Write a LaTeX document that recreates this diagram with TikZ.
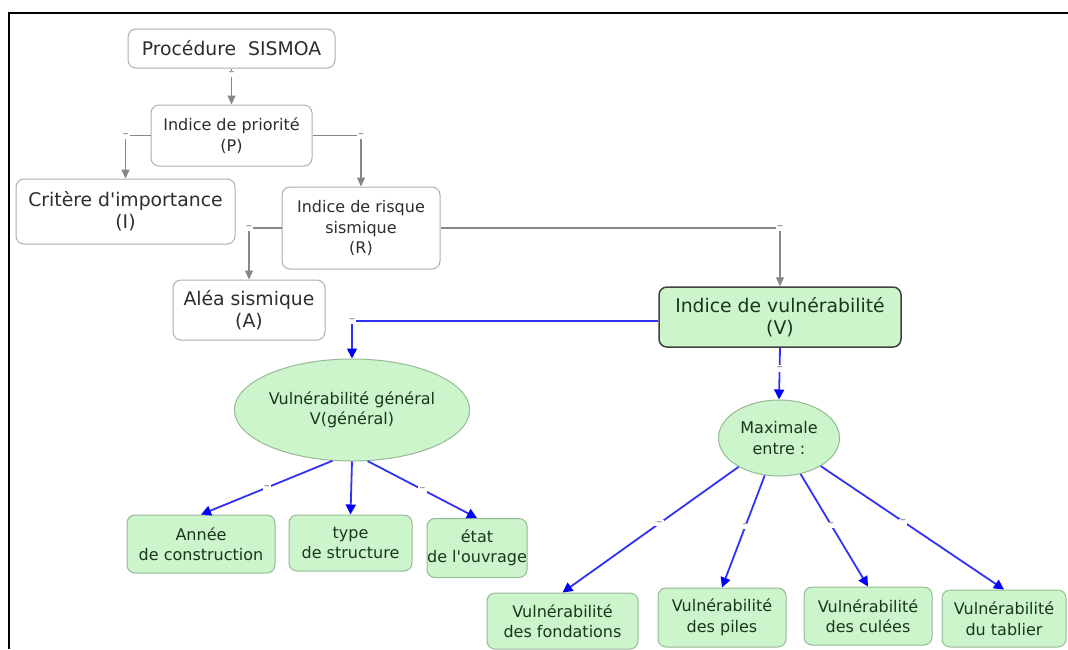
\documentclass[tikz,border=0pt]{standalone}
\usepackage{fontspec}
\setmainfont{DejaVu Sans}[Ligatures=TeXOff]
\usetikzlibrary{shapes.geometric,arrows.meta}
\definecolor{boxgreen}{RGB}{204,245,204}
\definecolor{greenedge}{RGB}{150,185,150}
\definecolor{grayedge}{RGB}{175,175,175}
\definecolor{linegray}{RGB}{135,135,135}
\definecolor{lblgray}{RGB}{120,120,120}
\definecolor{lineblue}{RGB}{50,50,245}
\definecolor{txtgray}{RGB}{45,45,45}
\definecolor{txtgreen}{RGB}{25,55,25}
\tikzset{
  bigfont/.style={font=\fontsize{18.8}{22}\selectfont},
  smallfont/.style={font=\fontsize{16}{20.5}\selectfont},
  graybox/.style={draw=grayedge, line width=1pt, fill=white, rounded corners=8pt,
    align=center, inner sep=0pt, text=txtgray},
  greenbox/.style={draw=greenedge, line width=1pt, fill=boxgreen, rounded corners=8pt,
    align=center, inner sep=0pt, text=txtgreen},
  greenell/.style={ellipse, draw=greenedge, line width=1pt, fill=boxgreen,
    align=center, inner sep=0pt, text=txtgreen},
  grayarrow/.style={draw=linegray, line width=1.2pt, -{Triangle[length=9pt,width=8pt]}},
  bluearrow/.style={draw=lineblue, line width=1.8pt, -{Triangle[length=10pt,width=10pt,fill=blue,color=blue]}},
  lbl/.style={font=\fontsize{12}{12}\selectfont, text=lblgray, fill=white, inner sep=1.2pt},
  sz/.style n args={2}{minimum width=#1pt, minimum height=#2pt}
}
\begin{document}
\begin{tikzpicture}[x=1pt,y=-1pt]
\useasboundingbox (0,0) rectangle (1068,649);
\fill[white] (0,0) rectangle (1068,649);
\clip (0,0) rectangle (1068,649);
\draw[line width=2.6pt] (9,649) -- (9,13) -- (1068,13);

% gray nodes
\node[graybox, bigfont, sz={207}{39}] (sis) at (231.5,48.5) {Procédure\ \ SISMOA};
\node[graybox, smallfont, sz={161}{61}] (P) at (231.5,135.5) {Indice de priorité\\(P)};
\node[graybox, bigfont, sz={219}{65}] (I) at (125.5,211.5) {Critère d'importance\\(I)};
\node[graybox, smallfont, sz={158}{82}] (R) at (361,228) {Indice de risque\\sismique\\(R)};
\node[graybox, bigfont, sz={152}{60}] (A) at (249,310) {Aléa sismique\\(A)};

% green nodes
\node[greenbox, bigfont, sz={242}{60}, draw=black!75, line width=1.5pt] (V) at (780,317) {Indice de vulnérabilité\\(V)};
\node[greenell, smallfont, sz={204}{102}] (vg) at (352,410) {Vulnérabilité général\\V(général)};
\node[greenell, smallfont, sz={121}{76}] (mx) at (779,438) {Maximale\\entre :};

\node[greenbox, smallfont, sz={148}{58}] (an) at (201,544) {Année\\de construction};
\node[greenbox, smallfont, sz={123}{56}] (ty) at (350.5,543) {type\\de structure};
\node[greenbox, smallfont, sz={100}{59}] (et) at (477,548) {état\\de l'ouvrage};

\node[greenbox, smallfont, sz={151}{56}] (fo) at (562.5,621) {Vulnérabilité\\des fondations};
\node[greenbox, smallfont, sz={128}{59}] (pi) at (722,617.5) {Vulnérabilité\\des piles};
\node[greenbox, smallfont, sz={128}{58}] (cu) at (868,616) {Vulnérabilité\\des culées};
\node[greenbox, smallfont, sz={124}{57}] (ta) at (1004,618.5) {Vulnérabilité\\du tablier};

% gray connectors
\draw[grayarrow] (sis) -- node[lbl, pos=0.15] {–} (P);
\draw[grayarrow] (P.west) -| node[lbl, pos=0.5] {–} (I.north);
\draw[grayarrow] (P.east) -| node[lbl, pos=0.5] {–} (R.north);
\draw[grayarrow] (R.west) -| node[lbl, pos=0.5] {–} (A.north);
\draw[grayarrow] (R.east) -| node[lbl, pos=0.5] {–} (V.north);

% blue connectors
\draw[bluearrow] ([yshift=-4pt]V.west) -| node[lbl, pos=0.5] {–} (vg.north);
\draw[bluearrow] (V.south) -- node[lbl, pos=0.4] {–} (mx.north);

\draw[bluearrow] (vg.249) -- node[lbl, pos=0.5] {–} (an.north);
\draw[bluearrow] (vg.south) -- (ty.north);
\draw[bluearrow] (vg.287) -- node[lbl, pos=0.5] {–} (et.north);

\draw[bluearrow] (mx) -- node[lbl, pos=0.45] {–} (fo.north);
\draw[bluearrow] (mx) -- node[lbl, pos=0.45] {–} (pi.north);
\draw[bluearrow] (mx) -- node[lbl, pos=0.45] {–} (cu.north);
\draw[bluearrow] (mx) -- node[lbl, pos=0.45] {–} (ta.north);
\end{tikzpicture}
\end{document}
